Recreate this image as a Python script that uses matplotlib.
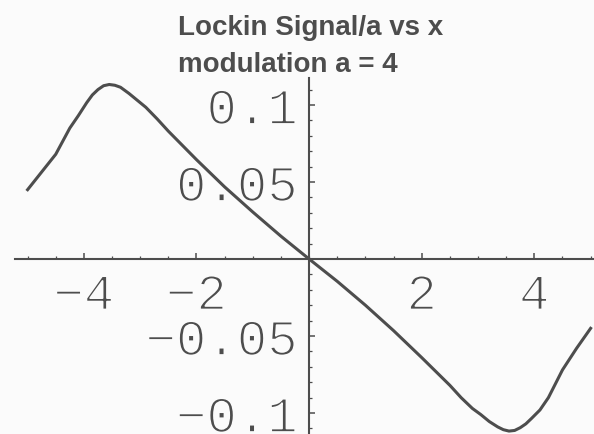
import matplotlib
matplotlib.use("Agg")
import matplotlib.pyplot as plt
import matplotlib.patheffects as patheffects
from matplotlib.ticker import FixedLocator, MultipleLocator

# lock-in signal divided by modulation amplitude, sampled along x
x_vals = [-5.0, -4.75, -4.5, -4.25, -4.1, -3.95, -3.85, -3.75, -3.65, -3.55,
          -3.45, -3.35, -3.2, -3.05, -2.9, -2.7, -2.5, -2.0, -1.5, -1.0,
          -0.5, 0.0, 0.5, 1.0, 1.5, 2.0, 2.5, 2.7, 2.9, 3.05,
          3.2, 3.35, 3.45, 3.55, 3.65, 3.75, 3.85, 3.95, 4.1, 4.25,
          4.5, 4.75, 5.0]
signal = [0.045, 0.0565, 0.068, 0.085, 0.093, 0.1015, 0.1065, 0.110, 0.1125, 0.1133,
          0.1128, 0.1115, 0.1075, 0.103, 0.0985, 0.091, 0.083, 0.0645, 0.0468, 0.0305,
          0.0148, 0.0, -0.0145, -0.0300, -0.0465, -0.0640, -0.082, -0.090, -0.097, -0.101,
          -0.1055, -0.109, -0.1108, -0.1117, -0.1113, -0.1095, -0.107, -0.1035, -0.098, -0.090,
          -0.072, -0.058, -0.045]

x_ticks = [-4, -2, 2, 4]
x_tick_labels = ["\u22124", "\u22122", "2", "4"]
y_ticks = [-0.1, -0.05, 0.05, 0.1]
y_tick_labels = ["\u22120.1", "\u22120.05", "0.05", "0.1"]

title_lines = ["Lockin Signal/a vs x", "modulation a = 4"]

INK = "#4d4d4d"
PAPER = "#fbfbfb"
TICK_FONT = ["Liberation Mono", "DejaVu Sans Mono"]

fig = plt.figure(figsize=(5.94, 4.35), dpi=100, facecolor=PAPER)
ax = fig.add_axes([0, 0, 1, 1], facecolor=PAPER)

ax.plot(x_vals, signal, color=INK, linewidth=2.2, solid_joinstyle="round", zorder=5)

ax.set_xlim(-5.49, 5.06)
ax.set_ylim(-0.1136, 0.1688)

# axes crossing at the origin, Mathematica style
ax.spines["top"].set_visible(False)
ax.spines["right"].set_visible(False)
ax.spines["left"].set_position(("data", 0))
ax.spines["bottom"].set_position(("data", 0))
ax.spines["bottom"].set_bounds(-5.23, 5.06)
ax.spines["left"].set_bounds(-0.1136, 0.1175)
for side in ("left", "bottom"):
    ax.spines[side].set_color(INK)
    ax.spines[side].set_linewidth(1.5)
    ax.spines[side].set_zorder(4)

ax.set_xticks(x_ticks)
ax.set_xticklabels(x_tick_labels)
ax.set_yticks(y_ticks)
ax.set_yticklabels(y_tick_labels)
ax.xaxis.set_minor_locator(MultipleLocator(0.5))
# keep the small y ticks on the drawn part of the axis only
ax.yaxis.set_minor_locator(FixedLocator([k / 100 for k in range(-11, 12)]))

ax.tick_params(which="major", direction="in", length=4, width=1.1, color=INK)
ax.tick_params(which="minor", direction="in", length=2.2, width=0.9, color=INK)
ax.tick_params(axis="x", which="major", pad=9)
ax.tick_params(axis="y", which="major", pad=8)

# thin the glyph strokes so the numbers look like a light typewriter face
thin = [patheffects.Stroke(linewidth=1.3, foreground=PAPER)]
for lbl in ax.get_xticklabels() + ax.get_yticklabels():
    lbl.set_fontfamily(TICK_FONT)
    lbl.set_fontsize(36.5)
    lbl.set_color(INK)
    lbl.set_zorder(1)
    lbl.set_path_effects(thin)

for i, line in enumerate(title_lines):
    fig.text(178 / 594, 1 - (35 + 37 * i) / 435, line, ha="left", va="baseline",
             fontsize=20, fontweight="bold", family="Liberation Sans", color=INK)

fig.savefig("out.png", dpi=100, facecolor=PAPER)
